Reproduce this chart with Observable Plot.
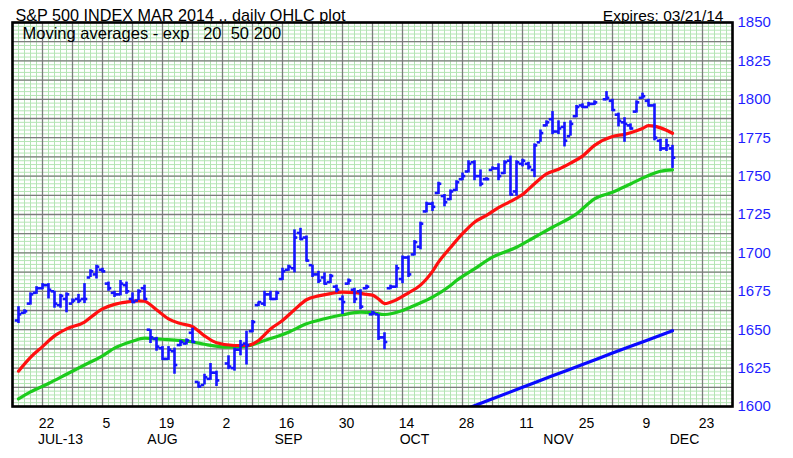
<!DOCTYPE html>
<html><head><meta charset="utf-8">
<script src="https://cdn.jsdelivr.net/npm/d3@7"></script>
<script src="https://cdn.jsdelivr.net/npm/@observablehq/plot@0.6"></script>
<style>
html,body{margin:0;padding:0;background:#fff;}
#chart{width:793px;height:458px;}
</style></head><body><div id="chart"></div>
<script>
// ---- OHLC data (S&P 500 March 2014 futures, daily) ----
const dates = ["07-16","07-17","07-18","07-19","07-22","07-23","07-24","07-25","07-26","07-29","07-30","07-31","08-01","08-02","08-05","08-06","08-07","08-08","08-09","08-12","08-13","08-14","08-15","08-16","08-19","08-20","08-21","08-22","08-23","08-26","08-27","08-28","08-29","08-30","09-03","09-04","09-05","09-06","09-09","09-10","09-11","09-12","09-13","09-16","09-17","09-18","09-19","09-20","09-23","09-24","09-25","09-26","09-27","09-30","10-01","10-02","10-03","10-04","10-07","10-08","10-09","10-10","10-11","10-14","10-15","10-16","10-17","10-18","10-21","10-22","10-23","10-24","10-25","10-28","10-29","10-30","10-31","11-01","11-04","11-05","11-06","11-07","11-08","11-11","11-12","11-13","11-14","11-15","11-18","11-19","11-20","11-21","11-22","11-25","11-26","11-27","11-29","12-02","12-03","12-04","12-05","12-06","12-09","12-10","12-11","12-12","12-13","12-16"];
const open  = [1656,1661,1667,1674,1677,1679,1675,1666,1670,1667,1670,1670,1684,1686,1689,1680,1674,1673,1679,1670,1669,1677,1650,1644,1638,1631,1636,1640,1641,1648,1616,1614,1618,1622,1628,1625,1637,1641,1649,1666,1667,1673,1670,1683,1689,1690,1713,1710,1692,1686,1684,1681,1678,1670,1680,1676,1675,1677,1660,1660,1645,1677,1678,1683,1697,1699,1704,1727,1732,1739,1737,1735,1741,1748,1753,1759,1750,1748,1754,1755,1752,1760,1740,1758,1758,1754,1772,1783,1787,1779,1782,1776,1789,1796,1795,1797,1800,1799,1790,1785,1783,1792,1801,1799,1796,1773,1768,1768];
const high  = [1665,1663,1674,1678,1680,1680,1675,1673,1674,1670,1673,1680,1689,1692,1690,1681,1675,1682,1681,1674,1676,1679,1650,1645,1639,1639,1638,1643,1644,1651,1616,1621,1628,1623,1633,1638,1643,1649,1656,1668,1675,1675,1675,1690,1692,1715,1716,1711,1692,1688,1687,1686,1679,1672,1683,1677,1676,1679,1662,1660,1648,1679,1692,1698,1698,1708,1720,1733,1733,1746,1738,1741,1747,1752,1760,1760,1754,1749,1756,1758,1760,1763,1760,1761,1759,1771,1780,1786,1792,1786,1785,1786,1796,1797,1798,1799,1805,1800,1791,1788,1784,1799,1804,1800,1797,1774,1774,1770];
const low   = [1654,1660,1666,1673,1676,1670,1664,1664,1661,1667,1667,1667,1684,1683,1687,1675,1671,1672,1673,1667,1669,1669,1641,1636,1630,1630,1621,1639,1640,1641,1612,1614,1617,1613,1624,1623,1633,1627,1648,1665,1665,1669,1669,1682,1688,1687,1708,1694,1684,1680,1679,1680,1674,1660,1679,1667,1663,1676,1659,1643,1637,1676,1677,1680,1684,1698,1702,1726,1727,1738,1730,1734,1740,1747,1752,1747,1743,1747,1754,1747,1751,1737,1737,1756,1754,1749,1772,1782,1777,1777,1769,1776,1788,1794,1795,1796,1799,1792,1782,1772,1780,1791,1800,1795,1773,1766,1766,1755];
const close = [1660,1662,1673,1677,1679,1676,1667,1672,1673,1669,1669,1670,1688,1691,1688,1677,1673,1680,1675,1668,1675,1670,1645,1639,1631,1637,1627,1642,1643,1642,1613,1619,1622,1617,1626,1637,1640,1640,1655,1668,1673,1670,1674,1688,1691,1710,1709,1695,1686,1682,1680,1685,1676,1668,1682,1670,1665,1678,1661,1645,1642,1678,1690,1697,1686,1707,1719,1732,1730,1745,1733,1740,1746,1750,1758,1750,1745,1748,1755,1750,1759,1738,1759,1760,1756,1770,1778,1785,1779,1781,1773,1784,1795,1795,1797,1798,1801,1793,1786,1784,1781,1798,1802,1796,1775,1768,1770,1762];

// ---- exponential moving averages ----
const ema20Dates = ["07-16","07-18","07-22","07-24","07-26","07-31","08-02","08-05","08-07","08-09","08-13","08-14","08-16","08-20","08-22","08-26","08-28","08-30","09-04","09-06","09-10","09-12","09-16","09-18","09-20","09-24","09-26","09-30","10-02","10-04","10-07","10-08","10-09","10-11","10-15","10-17","10-18","10-21","10-22","10-24","10-28","10-30","11-01","11-05","11-07","11-11","11-13","11-15","11-19","11-21","11-25","11-27","12-02","12-04","12-06","12-09","12-10","12-11","12-12","12-13","12-16"];
const ema20 = [1623,1632,1639,1646,1650.5,1655,1661,1663.5,1666.5,1668,1668.8,1668.5,1663,1657,1654,1652,1646,1641.5,1639.7,1639.7,1643,1650.5,1656,1663,1669.5,1672,1673.5,1674.4,1674.2,1673,1672.5,1670,1667,1669.5,1674,1679,1683,1688,1694,1703.5,1712.5,1720,1724.5,1729.5,1733.5,1738,1745,1751.4,1754.5,1758.5,1763,1770,1775.8,1777.2,1779.5,1781,1782.9,1782.5,1781.4,1779.8,1777.9];
const ema50Dates = ["07-16","07-18","07-23","07-26","07-31","08-05","08-07","08-12","08-14","08-19","08-22","08-26","08-28","09-03","09-06","09-11","09-17","09-20","09-25","09-30","10-03","10-07","10-09","10-14","10-16","10-21","10-24","10-25","10-30","11-04","11-08","11-13","11-18","11-22","11-27","12-02","12-05","12-10","12-12","12-16"];
const ema50 = [1605,1609.5,1615,1621,1627,1633,1638,1642.5,1644.5,1643.8,1643,1642,1640.5,1638.6,1639.3,1643,1648.4,1653.8,1657.1,1659.7,1661.4,1661,1659.9,1662.5,1665.8,1671.2,1678.8,1682,1689.6,1697.2,1703.7,1710.2,1716.7,1725.4,1735.2,1739.5,1744.9,1750.4,1753.2,1754.1];
const ema200Dates = ["10-25","11-04","11-11","11-18","11-25","12-02","12-09","12-16"];
const ema200 = [1596,1605,1612.5,1620,1627.3,1634.8,1642,1649.3];

// ---- tick labels ----
const yTicks = [1600,1625,1650,1675,1700,1725,1750,1775,1800,1825,1850];
const dayTickDates = ["07-22","08-05","08-19","09-02","09-16","09-30","10-14","10-28","11-11","11-25","12-09","12-23"];
const dayTickLabels = ["22","5","19","2","16","30","14","28","11","25","9","23"];
const monthDates = ["07-25","08-19","09-17","10-16","11-19","12-18"];
const monthLabels = ["JUL-13","AUG","SEP","OCT","NOV","DEC"];

const title = "S&P 500 INDEX MAR 2014 .. daily OHLC plot";
const expires = "Expires: 03/21/14";
const maNote = "Moving averages - exp   20  50 200";

// trading-day slot: 5 slots per week, Monday 15 Jul 2013 = 0
const START = Date.UTC(2013, 6, 15);
function slot(s) {
  const t = Date.UTC(2013, +s.slice(0, 2) - 1, +s.slice(3, 5));
  const days = Math.round((t - START) / 864e5);
  return Math.floor(days / 7) * 5 + (days % 7);
}

const bars = dates.map((d, i) => ({s: slot(d), o: open[i], h: high[i], l: low[i], c: close[i]}));
const series = (ds, vs) => ds.map((d, i) => ({s: slot(d), v: vs[i]}));
const e20 = series(ema20Dates, ema20);
const e50 = series(ema50Dates, ema50);
const e200 = series(ema200Dates, ema200);

const minorX = d3.range(0, 121);
const majorX = d3.range(0, 121, 5);
const minorY = d3.range(1600, 1850.01, 2.5);
const majorY = d3.range(1600, 1850.01, 12.5);

const BLUE = "#1414ff";
const tick = 0.55;

const chart = Plot.plot({
  width: 793, height: 458,
  marginLeft: 12, marginRight: 61, marginTop: 22, marginBottom: 52,
  x: {domain: [0, 120], axis: null},
  y: {domain: [1600, 1850], axis: null},
  style: {fontFamily: "Liberation Sans, Arial, sans-serif", background: "#fff", overflow: "visible"},
  marks: [
    Plot.ruleX(minorX, {x: d => d, stroke: "#b4e4b4", strokeWidth: 1}),
    Plot.ruleY(minorY, {y: d => d, stroke: "#b4e4b4", strokeWidth: 1}),
    Plot.ruleX(majorX, {x: d => d, stroke: "#7d7d7d", strokeWidth: 1.3}),
    Plot.ruleY(majorY, {y: d => d, stroke: "#7d7d7d", strokeWidth: 1.3}),
    Plot.line(e200, {x: "s", y: "v", stroke: "#0a0aff", strokeWidth: 3.2, clip: true, curve: "monotone-x"}),
    Plot.line(e50, {x: "s", y: "v", stroke: "#1ccc1c", strokeWidth: 3.2, curve: "monotone-x"}),
    Plot.line(e20, {x: "s", y: "v", stroke: "#ff1010", strokeWidth: 3.2, curve: "monotone-x"}),
    Plot.ruleX(bars, {x: "s", y1: "l", y2: "h", stroke: BLUE, strokeWidth: 2.6}),
    Plot.ruleY(bars, {x1: d => d.s - tick, x2: d => d.s, y: "o", stroke: BLUE, strokeWidth: 2.6}),
    Plot.ruleY(bars, {x1: d => d.s, x2: d => d.s + tick, y: "c", stroke: BLUE, strokeWidth: 2.6}),
    Plot.frame({stroke: "#000", strokeWidth: 2.6}),
    Plot.text(yTicks, {x: 120, y: d => d, text: d => String(d), textAnchor: "start", dx: 5, fill: "#1f1fff", fontSize: 15}),
    Plot.text(dayTickDates, {x: d => slot(d), text: (d, i) => dayTickLabels[i], frameAnchor: "bottom", lineAnchor: "bottom", dy: 21, dx: 4, fill: "#000", fontSize: 14}),
    Plot.text(monthDates, {x: d => slot(d), text: (d, i) => monthLabels[i], frameAnchor: "bottom", lineAnchor: "bottom", dy: 37, fill: "#000", fontSize: 14}),
    Plot.text([title], {frameAnchor: "top-left", textAnchor: "start", lineAnchor: "bottom", dx: 3, dy: -2, fontSize: 16.2, fill: "#000"}),
    Plot.text([expires], {frameAnchor: "top-right", textAnchor: "end", lineAnchor: "bottom", dx: -9, dy: -2, fontSize: 15.5, fill: "#000"}),
    Plot.text([maNote], {frameAnchor: "top-left", textAnchor: "start", lineAnchor: "bottom", dx: 10, dy: 16, fontSize: 16.5, fill: "#000"})
  ]
});
document.getElementById("chart").appendChild(chart);
</script></body></html>
